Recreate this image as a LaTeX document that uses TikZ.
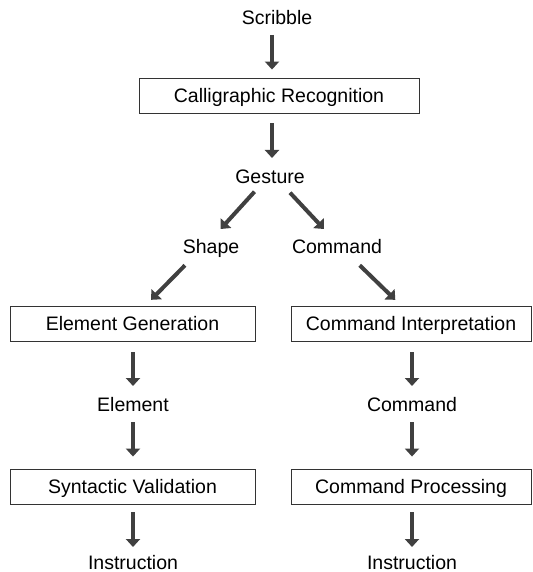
\documentclass[tikz,border=0pt]{standalone}
\usepackage{fontspec}
\setmainfont{Liberation Sans}
\usetikzlibrary{arrows.meta}
\definecolor{arrgray}{HTML}{404040}
\definecolor{boxgray}{HTML}{333333}
\tikzset{
  lbl/.style={anchor=base, inner sep=0pt, font=\fontsize{19.5}{23}\selectfont},
  stagebox/.style={draw=boxgray, line width=0.9pt, rectangle, inner sep=0pt,
    minimum height=35pt, text height=14pt, text depth=0pt,
    font=\fontsize{19.5}{23}\selectfont},
  arr/.style={draw=arrgray, line width=4pt,
    -{Triangle[width=14pt,length=8pt]}, arrgray},
}
\begin{document}
\begin{tikzpicture}[x=1pt, y=-1pt]
\useasboundingbox (0,0) rectangle (532,572);

% text nodes
\node[lbl] (scribble) at (277,25) {Scribble};
\node[stagebox, minimum width=280pt] (calli) at (279,95.5) {Calligraphic Recognition};
\node[lbl] (gesture) at (270,183) {Gesture};
\node[lbl] (shape) at (211,253) {Shape};
\node[lbl] (cmdA) at (337,253) {Command};
\node[stagebox, minimum width=245pt] (egen) at (132.5,323.5) {Element Generation};
\node[stagebox, minimum width=240pt] (cint) at (411,323.5) {Command Interpretation};
\node[lbl] (elem) at (133,411) {Element};
\node[lbl] (cmdB) at (412,411) {Command};
\node[stagebox, minimum width=245pt] (synval) at (132.5,486.5) {Syntactic Validation};
\node[stagebox, minimum width=240pt] (cproc) at (411,486.5) {Command Processing};
\node[lbl] (instrA) at (133,569.5) {Instruction};
\node[lbl] (instrB) at (412,569.5) {Instruction};

% connectors
\draw[arr] ([shift={(-5,10)}]scribble.base) -- ([shift={(-7,-8)}]calli.north);
\draw[arr] ([shift={(-7,10)}]calli.south) -- ([shift={(2,-25)}]gesture.base);
\draw[arr] ([shift={(-15.5,8.7)}]gesture.base) -- ([shift={(9.6,-24)}]shape.base);
\draw[arr] ([shift={(20,9.7)}]gesture.base) -- ([shift={(-13,-24)}]cmdA.base);
\draw[arr] ([shift={(-26,12.3)}]shape.base) -- ([shift={(18.5,-5.7)}]egen.north);
\draw[arr] ([shift={(22.7,12.3)}]cmdA.base) -- ([shift={(-15.7,-5.7)}]cint.north);

\draw[arr] ([shift={(0.5,11)}]egen.south) -- ([shift={(0,-25)}]elem.base);
\draw[arr] ([shift={(0,11)}]elem.base) -- ([shift={(0.5,-12)}]synval.north);
\draw[arr] ([shift={(0.5,8)}]synval.south) -- ([shift={(0,-22.5)}]instrA.base);

\draw[arr] ([shift={(1,11)}]cint.south) -- ([shift={(0,-25)}]cmdB.base);
\draw[arr] ([shift={(0,11)}]cmdB.base) -- ([shift={(1,-12)}]cproc.north);
\draw[arr] ([shift={(1,8)}]cproc.south) -- ([shift={(0,-22.5)}]instrB.base);
\end{tikzpicture}
\end{document}
